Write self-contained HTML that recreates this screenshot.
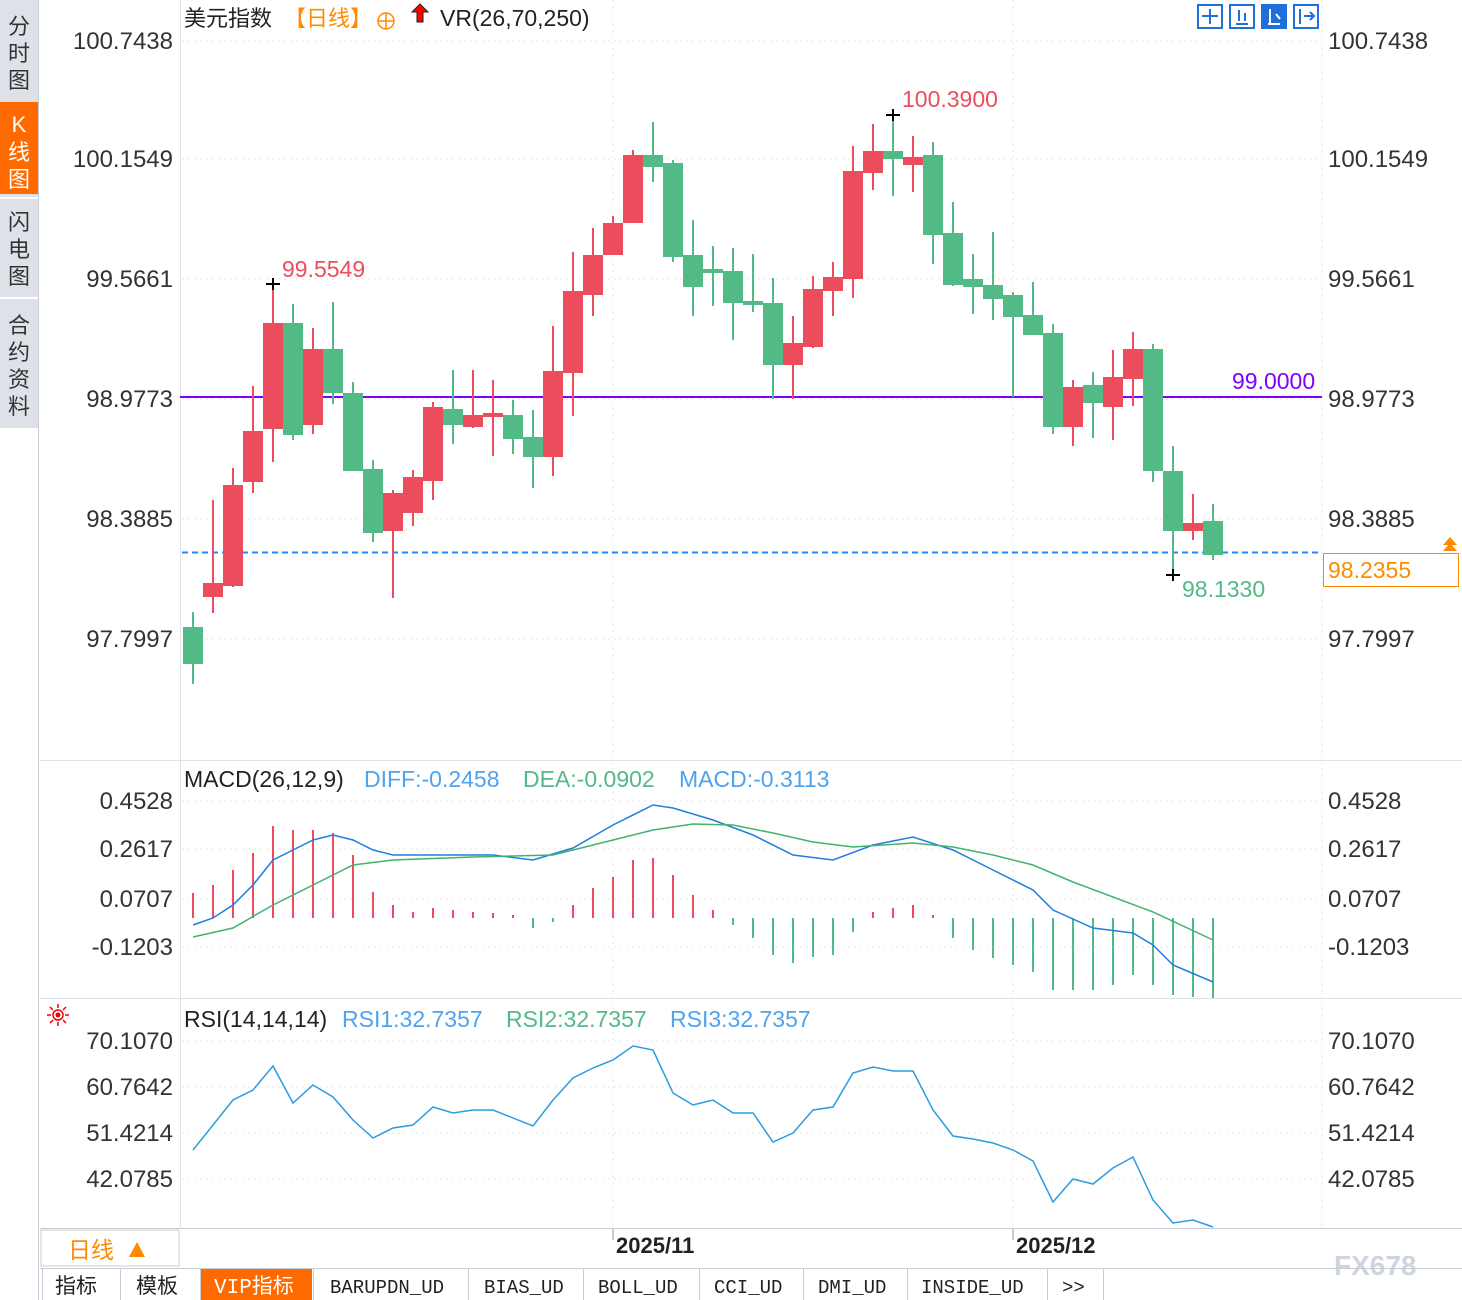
<!DOCTYPE html>
<html><head><meta charset="utf-8"><style>
html,body{margin:0;padding:0;background:#fff;}
body{width:1462px;height:1300px;overflow:hidden;position:relative;font-family:"Liberation Sans","Noto Sans CJK SC",sans-serif;}
svg{position:absolute;left:0;top:0;}
</style></head><body>
<svg width="1462" height="1300" xmlns="http://www.w3.org/2000/svg" font-family="Liberation Sans, Noto Sans CJK SC, sans-serif">
<rect width="1462" height="1300" fill="#fff"/>
<!-- sidebar -->
<rect x="0" y="0" width="38" height="1300" fill="#fff"/>
<rect x="0" y="0" width="38" height="428" fill="#dfe1e8"/>
<rect x="0" y="102" width="38" height="92" fill="#ff6a00"/>
<line x1="0" y1="198" x2="38" y2="198" stroke="#fff" stroke-width="2"/>
<line x1="0" y1="298" x2="38" y2="298" stroke="#fff" stroke-width="2"/>
<line x1="38.5" y1="0" x2="38.5" y2="1300" stroke="#c8ccd4"/>
<g font-size="22" fill="#333" text-anchor="middle">
<text x="19" y="34">分</text><text x="19" y="61">时</text><text x="19" y="88">图</text>
<text x="19" y="132" fill="#fff">K</text><text x="19" y="160" fill="#fff">线</text><text x="19" y="187" fill="#fff">图</text>
<text x="19" y="230">闪</text><text x="19" y="257">电</text><text x="19" y="284">图</text>
<text x="19" y="333">合</text><text x="19" y="360">约</text><text x="19" y="387">资</text><text x="19" y="414">料</text>
</g>
<!-- frame -->
<line x1="180.5" y1="0" x2="180.5" y2="1228" stroke="#dde1e8"/>
<line x1="40" y1="760.5" x2="1462" y2="760.5" stroke="#dde1e8"/>
<line x1="40" y1="998.5" x2="1462" y2="998.5" stroke="#dde1e8"/>
<line x1="40" y1="1228.5" x2="1462" y2="1228.5" stroke="#c8ccd4"/>
<!-- grid -->
<g stroke="#e6e6e6" stroke-dasharray="2,4">
<line x1="182" y1="41" x2="1322" y2="41"/><line x1="182" y1="159" x2="1322" y2="159"/><line x1="182" y1="279" x2="1322" y2="279"/><line x1="182" y1="399" x2="1322" y2="399"/><line x1="182" y1="519" x2="1322" y2="519"/><line x1="182" y1="639" x2="1322" y2="639"/>
<line x1="182" y1="801" x2="1322" y2="801"/><line x1="182" y1="849" x2="1322" y2="849"/><line x1="182" y1="899" x2="1322" y2="899"/><line x1="182" y1="947" x2="1322" y2="947"/>
<line x1="182" y1="1041" x2="1322" y2="1041"/><line x1="182" y1="1087" x2="1322" y2="1087"/><line x1="182" y1="1133" x2="1322" y2="1133"/><line x1="182" y1="1179" x2="1322" y2="1179"/>
<line x1="613" y1="0" x2="613" y2="1228"/><line x1="1013" y1="0" x2="1013" y2="1228"/><line x1="1322" y1="0" x2="1322" y2="1228"/>
</g>
<!-- axis labels -->
<g font-size="24" fill="#333">
<g text-anchor="end">
<text x="173" y="49">100.7438</text><text x="173" y="167">100.1549</text><text x="173" y="287">99.5661</text><text x="173" y="407">98.9773</text><text x="173" y="527">98.3885</text><text x="173" y="647">97.7997</text>
<text x="173" y="809">0.4528</text><text x="173" y="857">0.2617</text><text x="173" y="907">0.0707</text><text x="173" y="955">-0.1203</text>
<text x="173" y="1049">70.1070</text><text x="173" y="1095">60.7642</text><text x="173" y="1141">51.4214</text><text x="173" y="1187">42.0785</text>
</g>
<text x="1328" y="49">100.7438</text><text x="1328" y="167">100.1549</text><text x="1328" y="287">99.5661</text><text x="1328" y="407">98.9773</text><text x="1328" y="527">98.3885</text><text x="1328" y="647">97.7997</text>
<text x="1328" y="809">0.4528</text><text x="1328" y="857">0.2617</text><text x="1328" y="907">0.0707</text><text x="1328" y="955">-0.1203</text>
<text x="1328" y="1049">70.1070</text><text x="1328" y="1095">60.7642</text><text x="1328" y="1141">51.4214</text><text x="1328" y="1187">42.0785</text>
</g>
<!-- header -->
<g font-size="22">
<text x="184" y="26" fill="#222">美元指数</text>
<text x="284" y="26" fill="#ff8a00">【日线】</text>
<circle cx="386" cy="21" r="8" fill="none" stroke="#ff8a00" stroke-width="1.5"/><line x1="378" y1="21" x2="394" y2="21" stroke="#ff8a00" stroke-width="1.5"/><line x1="386" y1="13" x2="386" y2="29" stroke="#ff8a00" stroke-width="1.5"/>
<path d="M420 4 L428 12 L423 12 L423 22 L417 22 L417 12 L412 12 Z" fill="#f00" stroke="#222" stroke-width="1"/>
<text x="440" y="26" fill="#222" font-size="23">VR(26,70,250)</text>
</g>
<g fill="none" stroke="#1e6fd9" stroke-width="2">
<rect x="1198" y="5" width="24" height="23"/><rect x="1230" y="5" width="24" height="23"/><rect x="1262" y="5" width="24" height="23" fill="#1e6fd9"/><rect x="1294" y="5" width="24" height="23"/>
<path d="M1210 9v15M1202 16h16M1236 24h12M1239 10v11M1245 13v8M1268 24h12M1270 9v15M1276 14l4 5M1300 9v15M1304 16h10M1310 12l4 4-4 4"/>
</g>
<path d="M1268 24h12M1270 9v15M1276 14l4 5" stroke="#fff" stroke-width="2" fill="none"/>
<!-- lines -->
<line x1="180" y1="397" x2="1322" y2="397" stroke="#8000ff" stroke-width="2"/>
<text x="1232" y="389" font-size="23" fill="#8000ff">99.0000</text>
<line x1="182" y1="552.5" x2="1322" y2="552.5" stroke="#1e88ff" stroke-width="2" stroke-dasharray="6,4"/>
<rect x="1323.5" y="553.5" width="135" height="33" fill="#fff" stroke="#ff8a00"/>
<text x="1328" y="578" font-size="23" fill="#ff8a00">98.2355</text>
<path d="M1443 545 L1450 537 L1457 545 Z M1443 551 L1450 543 L1457 551 Z" fill="#ff8a00"/>
<!-- candles -->
<g stroke-width="2">
<g stroke="#52ba87" fill="#52ba87">
<line x1="193" y1="612" x2="193" y2="684"/><rect x="184" y="628" width="18" height="35"/>
<line x1="293" y1="304" x2="293" y2="440"/><rect x="284" y="324" width="18" height="110"/>
<line x1="333" y1="302" x2="333" y2="404"/><rect x="324" y="350" width="18" height="42"/>
<line x1="353" y1="382" x2="353" y2="470"/><rect x="344" y="394" width="18" height="76"/>
<line x1="373" y1="460" x2="373" y2="542"/><rect x="364" y="470" width="18" height="62"/>
<line x1="453" y1="370" x2="453" y2="444"/><rect x="444" y="410" width="18" height="14"/>
<line x1="513" y1="400" x2="513" y2="454"/><rect x="504" y="416" width="18" height="22"/>
<line x1="533" y1="410" x2="533" y2="488"/><rect x="524" y="438" width="18" height="18"/>
<line x1="653" y1="122" x2="653" y2="182"/><rect x="644" y="156" width="18" height="10"/>
<line x1="673" y1="160" x2="673" y2="262"/><rect x="664" y="164" width="18" height="92"/>
<line x1="693" y1="220" x2="693" y2="316"/><rect x="684" y="256" width="18" height="30"/>
<line x1="713" y1="246" x2="713" y2="306"/><rect x="704" y="270" width="18" height="2"/>
<line x1="733" y1="248" x2="733" y2="340"/><rect x="724" y="272" width="18" height="30"/>
<line x1="753" y1="254" x2="753" y2="312"/><rect x="744" y="302" width="18" height="2"/>
<line x1="773" y1="278" x2="773" y2="399"/><rect x="764" y="304" width="18" height="60"/>
<line x1="893" y1="115" x2="893" y2="196"/><rect x="884" y="152" width="18" height="6"/>
<line x1="933" y1="142" x2="933" y2="264"/><rect x="924" y="156" width="18" height="78"/>
<line x1="953" y1="202" x2="953" y2="286"/><rect x="944" y="234" width="18" height="50"/>
<line x1="973" y1="254" x2="973" y2="314"/><rect x="964" y="280" width="18" height="6"/>
<line x1="993" y1="232" x2="993" y2="320"/><rect x="984" y="286" width="18" height="12"/>
<line x1="1013" y1="292" x2="1013" y2="397"/><rect x="1004" y="296" width="18" height="20"/>
<line x1="1033" y1="282" x2="1033" y2="334"/><rect x="1024" y="316" width="18" height="18"/>
<line x1="1053" y1="324" x2="1053" y2="434"/><rect x="1044" y="334" width="18" height="92"/>
<line x1="1093" y1="372" x2="1093" y2="438"/><rect x="1084" y="386" width="18" height="16"/>
<line x1="1153" y1="344" x2="1153" y2="482"/><rect x="1144" y="350" width="18" height="120"/>
<line x1="1173" y1="446" x2="1173" y2="575"/><rect x="1164" y="472" width="18" height="58"/>
<line x1="1213" y1="504" x2="1213" y2="560"/><rect x="1204" y="522" width="18" height="32"/>
</g>
<g stroke="#eb4d5c" fill="#eb4d5c">
<line x1="213" y1="500" x2="213" y2="613"/><rect x="204" y="584" width="18" height="12"/>
<line x1="233" y1="468" x2="233" y2="587"/><rect x="224" y="486" width="18" height="99"/>
<line x1="253" y1="386" x2="253" y2="493"/><rect x="244" y="432" width="18" height="49"/>
<line x1="273" y1="283" x2="273" y2="462"/><rect x="264" y="324" width="18" height="104"/>
<line x1="313" y1="328" x2="313" y2="434"/><rect x="304" y="350" width="18" height="74"/>
<line x1="393" y1="490" x2="393" y2="598"/><rect x="384" y="494" width="18" height="36"/>
<line x1="413" y1="470" x2="413" y2="526"/><rect x="404" y="478" width="18" height="34"/>
<line x1="433" y1="402" x2="433" y2="500"/><rect x="424" y="408" width="18" height="72"/>
<line x1="473" y1="370" x2="473" y2="428"/><rect x="464" y="416" width="18" height="10"/>
<line x1="493" y1="380" x2="493" y2="456"/><rect x="484" y="414" width="18" height="2"/>
<line x1="553" y1="326" x2="553" y2="476"/><rect x="544" y="372" width="18" height="84"/>
<line x1="573" y1="252" x2="573" y2="416"/><rect x="564" y="292" width="18" height="80"/>
<line x1="593" y1="228" x2="593" y2="316"/><rect x="584" y="256" width="18" height="38"/>
<line x1="613" y1="216" x2="613" y2="254"/><rect x="604" y="224" width="18" height="30"/>
<line x1="633" y1="150" x2="633" y2="222"/><rect x="624" y="156" width="18" height="66"/>
<line x1="793" y1="316" x2="793" y2="399"/><rect x="784" y="344" width="18" height="20"/>
<line x1="813" y1="276" x2="813" y2="348"/><rect x="804" y="290" width="18" height="56"/>
<line x1="833" y1="262" x2="833" y2="316"/><rect x="824" y="278" width="18" height="12"/>
<line x1="853" y1="146" x2="853" y2="298"/><rect x="844" y="172" width="18" height="106"/>
<line x1="873" y1="124" x2="873" y2="190"/><rect x="864" y="152" width="18" height="20"/>
<line x1="913" y1="136" x2="913" y2="192"/><rect x="904" y="158" width="18" height="6"/>
<line x1="1073" y1="380" x2="1073" y2="446"/><rect x="1064" y="388" width="18" height="38"/>
<line x1="1113" y1="350" x2="1113" y2="440"/><rect x="1104" y="378" width="18" height="28"/>
<line x1="1133" y1="332" x2="1133" y2="406"/><rect x="1124" y="350" width="18" height="28"/>
<line x1="1193" y1="494" x2="1193" y2="540"/><rect x="1184" y="524" width="18" height="6"/>
</g>
</g>
<g stroke="#000" stroke-width="2"><path d="M266 284h14M273 278v12M886 115h14M893 109v12M1166 575h14M1173 569v12"/></g>
<g font-size="23">
<text x="282" y="277" fill="#eb4d5c">99.5549</text>
<text x="902" y="107" fill="#eb4d5c">100.3900</text>
<text x="1182" y="597" fill="#52ba87">98.1330</text>
</g>
<!-- MACD -->
<g font-size="23"><text x="184" y="787" fill="#222">MACD(26,12,9)</text><text x="364" y="787" fill="#4da3f0">DIFF:-0.2458</text><text x="523" y="787" fill="#52ba87">DEA:-0.0902</text><text x="679" y="787" fill="#4da3f0">MACD:-0.3113</text></g>
<g stroke-width="2" stroke="#eb4d5c">
<path d="M193 918V893M213 918V885M233 918V870M253 918V853M273 918V826M293 918V830M313 918V830M333 918V833M353 918V855M373 918V892M393 918V905M413 918V912M433 918V908M453 918V910M473 918V912M493 918V913M513 918V915M573 918V905M593 918V888M613 918V877M633 918V860M653 918V858M673 918V875M693 918V895M713 918V910M873 918V912M893 918V908M913 918V905M933 918V915"/>
</g>
<g stroke-width="2" stroke="#52ba87">
<path d="M533 918V928M553 918V922M733 918V925M753 918V938M773 918V955M793 918V963M813 918V957M833 918V955M853 918V932M953 918V938M973 918V950M993 918V958M1013 918V965M1033 918V972M1053 918V990M1073 918V990M1093 918V990M1113 918V985M1133 918V975M1153 918V985M1173 918V995M1193 918V997M1213 918V998"/>
</g>
<polyline fill="none" stroke="#1e7fe0" stroke-width="1.5" points="193,925 213,918 233,905 253,885 273,860 293,850 313,840 333,835 353,840 373,850 393,855 433,855 493,855 533,860 573,848 613,825 653,805 673,808 713,820 753,835 793,855 833,860 873,845 913,837 953,850 993,870 1033,890 1053,910 1093,928 1133,933 1153,945 1173,965 1213,982"/>
<polyline fill="none" stroke="#3fb36f" stroke-width="1.5" points="193,937 233,928 273,905 313,885 353,865 393,860 473,857 553,855 613,840 653,830 693,824 733,825 773,833 813,842 853,847 913,843 953,847 993,855 1033,865 1073,882 1113,897 1153,912 1213,940"/>
<!-- RSI -->
<g stroke="#e00" stroke-width="1.5" fill="none"><circle cx="58" cy="1015" r="5"/><path d="M58 1004v4M58 1022v4M47 1015h4M65 1015h4M50 1007l3 3M63 1020l3 3M50 1023l3-3M63 1010l3-3"/></g>
<circle cx="58" cy="1015" r="2.5" fill="#e00"/>
<g font-size="23"><text x="184" y="1027" fill="#222">RSI(14,14,14)</text><text x="342" y="1027" fill="#4da3f0">RSI1:32.7357</text><text x="506" y="1027" fill="#52ba87">RSI2:32.7357</text><text x="670" y="1027" fill="#4da3f0">RSI3:32.7357</text></g>
<polyline fill="none" stroke="#2a9de0" stroke-width="1.5" points="193,1150 233,1100 253,1090 273,1066 293,1103 313,1085 333,1097 353,1120 373,1138 393,1128 413,1125 433,1107 453,1113 473,1110 493,1110 533,1126 553,1100 573,1078 593,1068 613,1060 633,1046 653,1050 673,1093 693,1105 713,1100 733,1113 753,1113 773,1142 793,1133 813,1110 833,1107 853,1073 873,1067 893,1071 913,1071 933,1110 953,1136 973,1139 993,1143 1013,1150 1033,1161 1053,1202 1073,1179 1093,1184 1113,1168 1133,1157 1153,1200 1173,1223 1193,1220 1213,1227"/>
<!-- x axis -->
<rect x="41" y="1230" width="138" height="36" fill="#fff" stroke="#c8ccd4"/>
<text x="68" y="1258" font-size="23" fill="#ff8a00">日线</text>
<path d="M129 1257 L137 1242 L145 1257 Z" fill="#ff8a00"/>
<line x1="613" y1="1229" x2="613" y2="1240" stroke="#999"/><line x1="1013" y1="1229" x2="1013" y2="1240" stroke="#999"/>
<g font-size="22" font-weight="bold" fill="#222"><text x="616" y="1253">2025/11</text><text x="1016" y="1253">2025/12</text></g>
<text x="1334" y="1275" font-size="28" font-weight="bold" fill="#cfd5de">FX678</text>
<!-- bottom tabs -->
<line x1="40" y1="1268.5" x2="1462" y2="1268.5" stroke="#c8ccd4"/>
<rect x="200" y="1269" width="112" height="31" fill="#ff6a00"/>
<g stroke="#c8ccd4"><path d="M42.5 1269v31M120.5 1269v31M200.5 1269v31M313.5 1269v31M468.5 1269v31M583.5 1269v31M699.5 1269v31M803.5 1269v31M907.5 1269v31M1047.5 1269v31M1103.5 1269v31"/></g>
<g font-size="21" fill="#222" font-family="Liberation Mono, Noto Sans CJK SC, monospace">
<text x="55" y="1293">指标</text><text x="136" y="1293">模板</text><text x="214" y="1293" fill="#fff">VIP指标</text>
<text x="330" y="1293" font-size="19">BARUPDN_UD</text><text x="484" y="1293" font-size="19">BIAS_UD</text><text x="598" y="1293" font-size="19">BOLL_UD</text><text x="714" y="1293" font-size="19">CCI_UD</text><text x="818" y="1293" font-size="19">DMI_UD</text><text x="921" y="1293" font-size="19">INSIDE_UD</text><text x="1062" y="1293" font-size="19">&gt;&gt;</text>
</g>
</svg>
</body></html>
